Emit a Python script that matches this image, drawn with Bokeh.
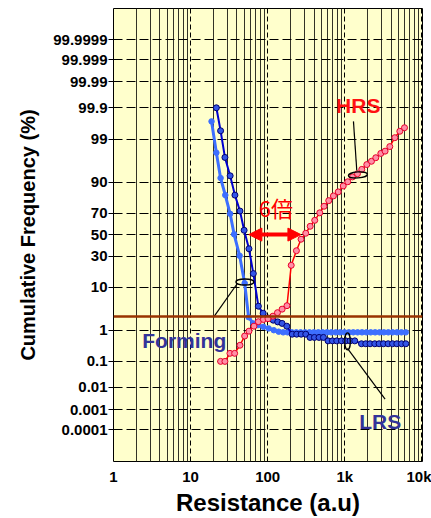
from statistics import NormalDist

from bokeh.embed import file_html
from bokeh.models import Arrow, FixedTicker, Label, NormalHead, Range1d, Span
from bokeh.plotting import figure
from bokeh.resources import INLINE

# ---- data: resistance (a.u) vs cumulative frequency (%) ----
forming_r = [18.7, 21.6, 24.5, 28.2, 32.6, 36.7, 43.3, 50.3, 56.6, 65.2, 74.8, 88.0,
             103, 120, 139, 159, 181, 206, 235, 268, 306, 349, 397, 453, 516, 588,
             670, 764, 871, 992, 1131, 1289, 1469, 1674, 1908, 2175, 2478, 2825,
             3219, 3669, 4182, 4766, 5432, 6190]
forming_pct = [99.71, 97.7, 91.6, 83.2, 69.4, 50.3, 30.3, 11.8, 2.2, 1.52, 1.37, 1.23,
               1.11, 0.99, 0.90, 0.86, 0.86, 0.86, 0.86, 0.86, 0.86, 0.86, 0.86, 0.86,
               0.86, 0.86, 0.86, 0.86, 0.86, 0.86, 0.86, 0.86, 0.86, 0.86, 0.86, 0.86,
               0.86, 0.86, 0.86, 0.86, 0.86, 0.86, 0.86, 0.86]

lrs_r = [21.6, 24.5, 27.9, 32.6, 37.6, 43.7, 49.5, 57.2, 65.2, 75.7, 87.4, 103, 118,
         135, 154, 177, 208, 238, 272, 312, 354, 404, 464, 529, 607, 692, 787, 906,
         1030, 1172, 1349, 1648, 1874, 2131, 2452, 2789, 3182, 3650, 4165, 4735,
         5451, 6197]
lrs_pct = [99.9, 99.43, 97.0, 92.4, 83.2, 71.7, 54.2, 36.5, 17.1, 4.05, 2.77, 2.09,
           1.85, 1.67, 1.52, 1.28, 0.76, 0.76, 0.76, 0.76, 0.61, 0.61, 0.61, 0.61,
           0.48, 0.48, 0.48, 0.48, 0.48, 0.48, 0.48, 0.39, 0.39, 0.39, 0.39, 0.39,
           0.39, 0.39, 0.39, 0.39, 0.39, 0.39]

hrs_r = [24.5, 27.9, 32.4, 37.3, 43.7, 50.3, 57.2, 66.4, 75.7, 88.0, 101, 117, 134,
         154, 178, 202, 236, 271, 312, 356, 408, 474, 539, 620, 713, 823, 956, 1094,
         1259, 1462, 1663, 1931, 2222, 2527, 2935, 3337, 3841, 4461, 5180, 5960]
hrs_pct = [0.1, 0.1, 0.19, 0.19, 0.35, 0.67, 0.93, 1.28, 1.69, 1.93, 2.02, 2.34, 2.85,
           3.46, 4.16, 22.7, 34.7, 45.5, 51.3, 58.0, 63.6, 70.2, 75.5, 79.6, 82.7,
           85.1, 88.2, 90.1, 92.0, 93.1, 94.4, 95.6, 96.3, 96.95, 97.6, 97.9, 98.4,
           99.09, 99.41, 99.54]

threshold_pct = 2.3            # reference level (brown line)
window_left_r = 57             # LRS edge at 50 %
window_right_r = 270           # HRS edge at 50 %
window_pct = 50

prob_ticks = [99.9999, 99.999, 99.99, 99.9, 99, 90, 70, 50, 30, 10, 1,
              0.1, 0.01, 0.001, 0.0001]
prob_labels = ["99.9999", "99.999", "99.99", "99.9", "99", "90", "70", "50", "30",
               "10", "1", "0.1", "0.01", "0.001", "0.0001"]
r_ticks = [1, 10, 100, 1000, 10000]
r_labels = ["1", "10", "100", "1k", "10k"]
r_minor = [m * d for d in (1, 10, 100, 1000) for m in range(2, 10)]

# ---- probability (normal quantile) scale ----
_nd = NormalDist()


def zq(pct):
    return _nd.inv_cdf(pct / 100.0)


def zlist(pcts):
    return [zq(v) for v in pcts]


FONT = "Liberation Sans"
CJK = "Noto Sans CJK JP"

p = figure(width=431, height=518, x_axis_type="log",
           x_range=Range1d(1, 10200), y_range=Range1d(-5.53, 5.51),
           output_backend="svg", toolbar_location=None,
           min_border_left=113, min_border_right=9,
           min_border_top=8, min_border_bottom=56)
p.background_fill_color = "#ffffcc"
p.border_fill_color = "white"
p.outline_line_color = "black"
p.outline_line_width = 1

# x axis
p.xaxis.ticker = FixedTicker(ticks=r_ticks, minor_ticks=r_minor)
p.xaxis.major_label_overrides = {float(t): s for t, s in zip(r_ticks, r_labels)}
p.xaxis.axis_label = "Resistance (a.u)"
p.xaxis.axis_line_color = None
p.xaxis.major_tick_line_color = None
p.xaxis.minor_tick_line_color = None
p.xaxis.major_tick_out = 0
p.xaxis.minor_tick_out = 0
p.xaxis.major_label_standoff = 6
p.xaxis.axis_label_standoff = 1

# y axis
ytick_z = zlist(prob_ticks)
p.yaxis.ticker = FixedTicker(ticks=ytick_z)
p.yaxis.major_label_overrides = {z: s for z, s in zip(ytick_z, prob_labels)}
p.yaxis.axis_label = "Cumulative Frequency (%)"
p.yaxis.axis_line_color = None
p.yaxis.major_tick_out = 5
p.yaxis.major_tick_in = 0
p.yaxis.major_tick_line_color = "black"
p.yaxis.minor_tick_line_color = None
p.yaxis.major_label_standoff = 1
p.yaxis.axis_label_standoff = 11

for ax in (p.xaxis[0], p.yaxis[0]):
    ax.major_label_text_font = FONT
    ax.major_label_text_font_style = "bold"
    ax.major_label_text_font_size = "15px"
    ax.major_label_text_color = "black"
    ax.axis_label_text_font = FONT
    ax.axis_label_text_font_style = "bold"
    ax.axis_label_text_color = "black"
p.xaxis.axis_label_text_font_size = "24px"
p.yaxis.axis_label_text_font_size = "20px"

# grids
p.xgrid.grid_line_color = "black"
p.xgrid.grid_line_dash = "5 3"
p.xgrid.grid_line_width = 1
p.xgrid.minor_grid_line_color = "#333326"
p.xgrid.minor_grid_line_width = 1
p.ygrid.grid_line_color = "black"
p.ygrid.grid_line_dash = "9 4"
p.ygrid.grid_line_width = 1

# threshold level
p.add_layout(Span(location=zq(threshold_pct), dimension="width",
                  line_color="#993300", line_width=2.5))

# Forming
p.line(forming_r, zlist(forming_pct), line_color="#3d6fff", line_width=3)
p.scatter(forming_r, zlist(forming_pct), size=5.5, fill_color="#3d6fff",
          line_color="#3d6fff")

# LRS
p.line(lrs_r, zlist(lrs_pct), line_color="#0000d0", line_width=2)
p.scatter(lrs_r, zlist(lrs_pct), size=6, fill_color="#3355e6",
          line_color="#000070", line_width=1)

# HRS
p.line(hrs_r, zlist(hrs_pct), line_color="#ff0000", line_width=1.5)
p.scatter(hrs_r, zlist(hrs_pct), size=6, fill_color="#ff8fa6",
          line_color="#e8002a", line_width=1)

# marker ellipses and leader lines
p.ellipse(x=[1480], y=[zq(92.7)], width=19, height=6, angle=0.08,
          width_units="screen", height_units="screen",
          fill_color=None, line_color="black", line_width=1.3)
p.ellipse(x=[50.6], y=[zq(12.4)], width=18, height=6,
          width_units="screen", height_units="screen",
          fill_color=None, line_color="black", line_width=1.3)
p.ellipse(x=[1087], y=[zq(0.462)], width=5.5, height=17,
          width_units="screen", height_units="screen",
          fill_color=None, line_color="black", line_width=1.3)
p.segment(x0=[1432, 40.4, 1084], y0=[zq(94.1), zq(11.66), zq(0.277)],
          x1=[1297, 19.9, 3337], y1=[zq(99.71), zq(2.21), zq(0.00307)],
          line_color="black", line_width=1.2)

# window arrow
p.add_layout(Arrow(x_start=window_left_r, y_start=zq(window_pct),
                   x_end=window_right_r, y_end=zq(window_pct),
                   line_color="red", line_width=4,
                   start=NormalHead(size=13, fill_color="red", line_color="red"),
                   end=NormalHead(size=13, fill_color="red", line_color="red")))

# text annotations
p.add_layout(Label(x=128, y=zq(74.9), text="6倍", text_font=CJK,
                   text_font_size="22px", text_color="red",
                   text_align="center", text_baseline="middle"))
p.add_layout(Label(x=1497, y=zq(99.917), text="HRS", text_font=FONT,
                   text_font_style="bold", text_font_size="21px",
                   text_color="#ff1111", text_align="center",
                   text_baseline="middle"))
p.add_layout(Label(x=2.36, y=zq(0.488), text="Forming", text_font=FONT,
                   text_font_style="bold", text_font_size="21px",
                   text_color="#333399", text_align="left",
                   text_baseline="alphabetic"))
p.add_layout(Label(x=2891, y=zq(0.000277), text="LRS", text_font=FONT,
                   text_font_style="bold", text_font_size="21px",
                   text_color="#333399", text_align="center",
                   text_baseline="alphabetic"))

open("out.html", "w").write(file_html(p, INLINE))
